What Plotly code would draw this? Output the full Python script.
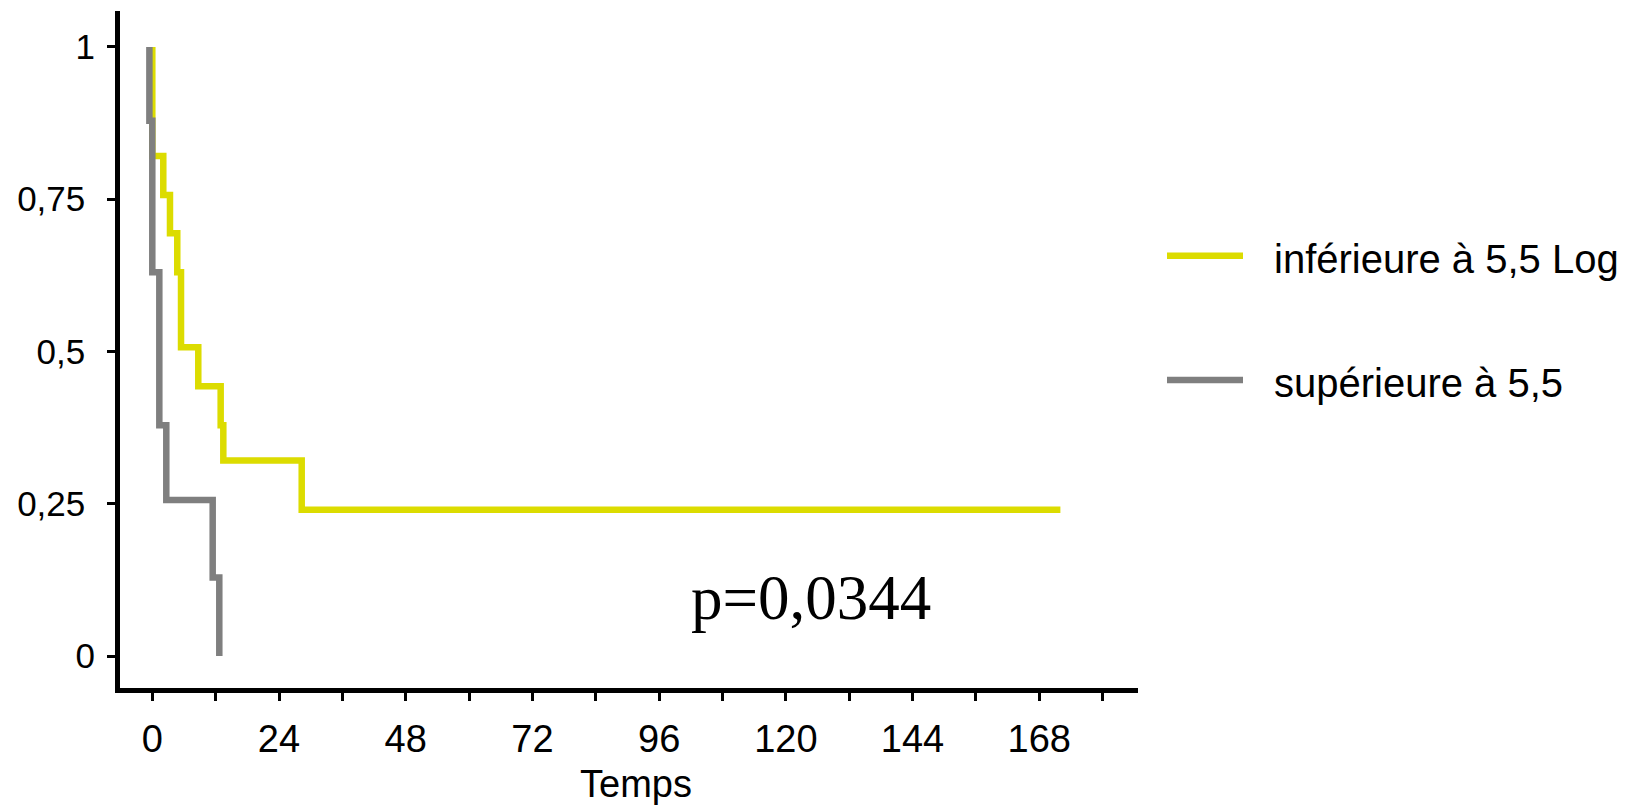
import plotly.graph_objects as go

# ---- data ----
series_names = ["inférieure à 5,5 Log", "supérieure à 5,5"]
low_times = [0, 0, 2.08, 3.35, 4.73, 5.44, 8.71, 12.95, 13.45, 28.3, 172.0]
low_surv = [1.0, 0.821, 0.757, 0.694, 0.630, 0.507, 0.443, 0.379, 0.321, 0.240, 0.240]
high_times = [-0.55, -0.55, 0, 1.33, 2.65, 11.44, 12.69]
high_surv = [1.0, 0.879, 0.630, 0.379, 0.256, 0.129, 0.0]
y_tickvals = [0, 0.25, 0.5, 0.75, 1]
y_ticktext = ["0", "0,25\u00a0", "0,5\u00a0", "0,75\u00a0", "1"]
x_tickvals = [0, 24, 48, 72, 96, 120, 144, 168]
x_title = "Temps"
p_text = "p=0,0344"

colors = ["#DCDC00", "#7F7F7F"]
# the page body has an 8px margin, so the figure is drawn offset by 8px
OFF = 8
W, H = 1635 - 2 * OFF, 810 - OFF
L, T = 120 - OFF, 11 - OFF
R, B = 1635 - 1138 - OFF, 810 - 688
pw, ph = W - L - R, H - T - B

def px_to_paper_x(px):  # px in page pixels
    return (px - OFF - L) / pw

def px_to_paper_y(py):
    return (H - B - (py - OFF)) / ph

fig = go.Figure()
fig.add_trace(go.Scatter(x=low_times, y=low_surv, mode="lines", name=series_names[0],
                         line=dict(color=colors[0], width=6.5, shape="hv"), showlegend=False))
fig.add_trace(go.Scatter(x=high_times, y=high_surv, mode="lines", name=series_names[1],
                         line=dict(color=colors[1], width=6.5, shape="hv"), showlegend=False))

font_sans = "Liberation Sans, Arial, sans-serif"

fig.update_layout(
    width=W, height=H,
    margin=dict(l=L, r=R, t=T, b=B, pad=0),
    paper_bgcolor="white", plot_bgcolor="white",
    font=dict(family=font_sans, size=38, color="black"),
    showlegend=False,
)
fig.update_xaxes(
    range=[-6.117, 186.7], showgrid=False, zeroline=False,
    showline=True, linecolor="black", linewidth=5,
    tickvals=x_tickvals, ticks="outside", ticklen=8, tickwidth=3, tickcolor="black",
    minor=dict(dtick=12, tick0=0, ticks="outside", ticklen=8, tickwidth=3, tickcolor="black"),
    tickfont=dict(size=38), ticklabelstandoff=5,
)
fig.update_yaxes(
    range=[-0.0525, 1.059], showgrid=False, zeroline=False,
    showline=True, linecolor="black", linewidth=5,
    tickvals=y_tickvals, ticktext=y_ticktext,
    ticks="outside", ticklen=8, tickwidth=3, tickcolor="black",
    tickfont=dict(size=35), ticklabelstandoff=5,
)

# x-axis title
fig.add_annotation(x=px_to_paper_x(636), y=px_to_paper_y(784), xref="paper", yref="paper",
                   text=x_title, showarrow=False, xanchor="center", yanchor="middle",
                   font=dict(family=font_sans, size=38, color="black"))

# p-value annotation
fig.add_annotation(x=124.75, y=0.0955, xref="x", yref="y", text=p_text, showarrow=False,
                   font=dict(family="Liberation Serif, Times New Roman, serif", size=63, color="black"),
                   xanchor="center", yanchor="middle")

# manual legend (long line samples)
leg_y = [255.7, 380]
for name, col, yy in zip(series_names, colors, leg_y):
    fig.add_shape(type="line", xref="paper", yref="paper",
                  x0=px_to_paper_x(1167), x1=px_to_paper_x(1243),
                  y0=px_to_paper_y(yy), y1=px_to_paper_y(yy),
                  line=dict(color=col, width=6.5))
    fig.add_annotation(x=px_to_paper_x(1272), y=px_to_paper_y(yy + 3), xref="paper", yref="paper",
                       text=name, showarrow=False, xanchor="left", yanchor="middle",
                       font=dict(family=font_sans, size=40, color="black"))

fig.write_html("out.html")
